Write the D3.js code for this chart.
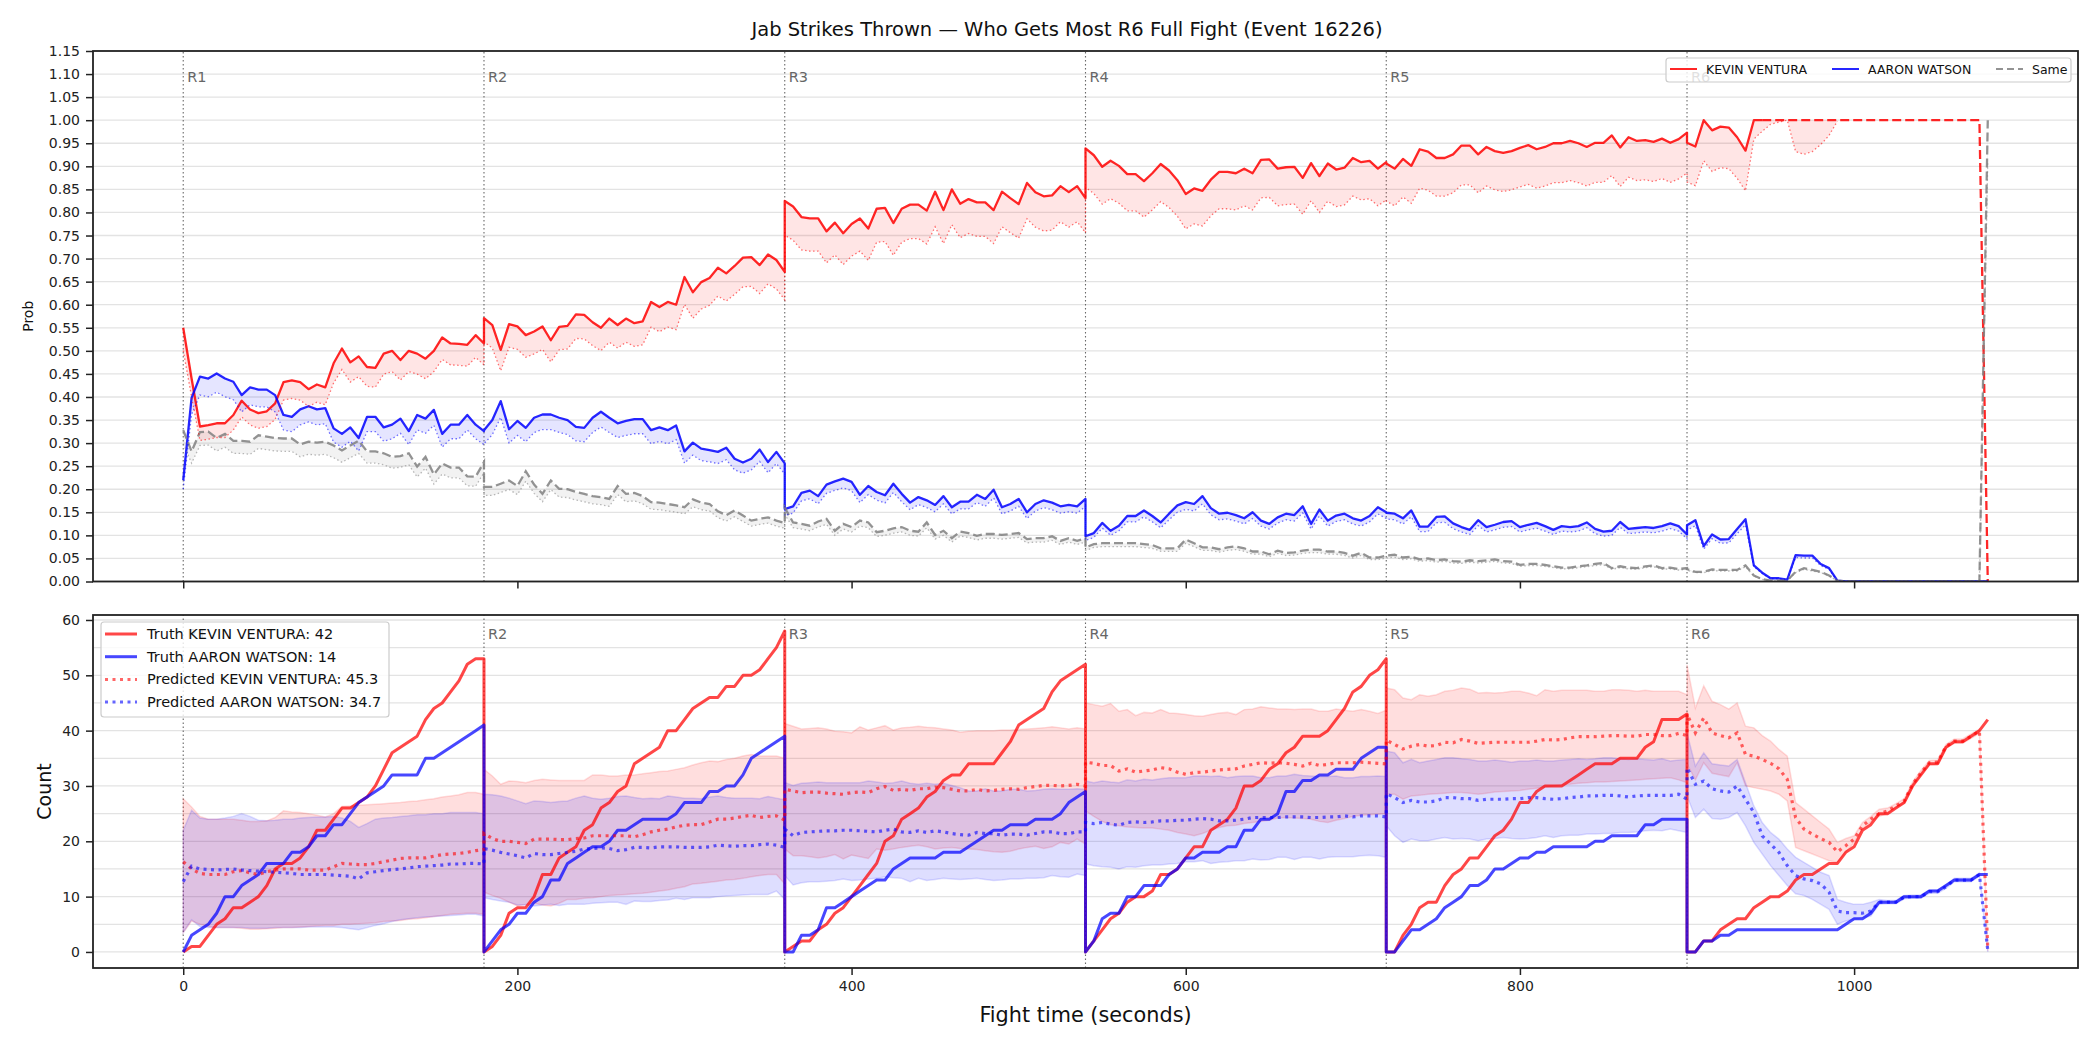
<!DOCTYPE html>
<html>
<head>
<meta charset="utf-8">
<script src="https://cdn.jsdelivr.net/npm/d3@7"></script>
<style>
  body { margin: 0; background: #fff; }
  svg { display: block; }
  text { font-family: "DejaVu Sans", sans-serif; }
</style>
</head>
<body>
<div id="chart"></div>
<script>
/* CONSTANTS AND DATA */
const width = 2100;
const height = 1050;

const roundStarts = [0, 180, 360, 540, 720, 900];
const roundLabels = ["R1", "R2", "R3", "R4", "R5", "R6"];
const stepSec = 5;
const xTicks = [0, 200, 400, 600, 800, 1000];

const fighterNames = ["KEVIN VENTURA", "AARON WATSON"];
const truthTotals = [42, 14];
const predTotals = [45.3, 34.7];

// top panel: win probability per round, one value every 5 s
const kvProb = [
  [0.55,0.44,0.336,0.339,0.343,0.343,0.361,0.392,0.373,0.365,0.369,0.386,0.432,0.436,0.432,0.417,0.427,0.421,0.473,0.505,0.475,0.488,0.465,0.463,0.494,0.5,0.48,0.5,0.494,0.483,0.5,0.529,0.516,0.515,0.513,0.534,0.516],
  [0.571,0.556,0.502,0.558,0.553,0.534,0.542,0.553,0.523,0.552,0.554,0.579,0.578,0.562,0.55,0.57,0.556,0.57,0.56,0.564,0.606,0.595,0.606,0.6,0.66,0.627,0.649,0.658,0.68,0.668,0.684,0.702,0.703,0.686,0.709,0.697,0.671],
  [0.825,0.813,0.79,0.787,0.787,0.759,0.778,0.755,0.775,0.787,0.765,0.808,0.81,0.777,0.808,0.817,0.817,0.804,0.845,0.805,0.85,0.819,0.829,0.822,0.822,0.805,0.845,0.831,0.818,0.864,0.844,0.835,0.837,0.857,0.844,0.857,0.831],
  [0.939,0.924,0.899,0.912,0.901,0.883,0.883,0.868,0.885,0.905,0.891,0.87,0.84,0.852,0.847,0.871,0.888,0.888,0.885,0.895,0.885,0.914,0.915,0.895,0.898,0.899,0.875,0.907,0.879,0.906,0.893,0.897,0.918,0.909,0.912,0.895,0.909],
  [0.906,0.895,0.916,0.901,0.937,0.932,0.918,0.918,0.926,0.945,0.945,0.926,0.942,0.933,0.929,0.933,0.94,0.946,0.937,0.942,0.95,0.95,0.955,0.95,0.942,0.951,0.951,0.967,0.941,0.963,0.955,0.957,0.953,0.96,0.951,0.959,0.973],
  [0.951,0.943,1,0.978,0.986,0.984,0.963,0.934,1,1,1,1,1,1,1,1,1,1,1,1,1,1,1,1,1,1,1,1,1,1,1,1,1,1,1,1,0]
];
const awProb = [
  [0.22,0.398,0.444,0.44,0.451,0.44,0.433,0.404,0.421,0.416,0.416,0.404,0.361,0.357,0.373,0.38,0.373,0.376,0.332,0.32,0.334,0.311,0.357,0.357,0.334,0.34,0.353,0.326,0.361,0.353,0.372,0.32,0.34,0.34,0.361,0.34,0.326],
  [0.328,0.35,0.391,0.33,0.348,0.333,0.355,0.362,0.362,0.355,0.35,0.335,0.333,0.355,0.368,0.355,0.343,0.348,0.352,0.352,0.328,0.334,0.328,0.338,0.282,0.301,0.288,0.285,0.281,0.29,0.266,0.258,0.266,0.286,0.259,0.281,0.256],
  [0.157,0.163,0.192,0.197,0.185,0.21,0.217,0.223,0.216,0.188,0.207,0.194,0.187,0.212,0.19,0.171,0.183,0.176,0.166,0.185,0.161,0.173,0.173,0.188,0.179,0.199,0.161,0.168,0.179,0.15,0.168,0.176,0.171,0.163,0.166,0.163,0.179],
  [0.098,0.105,0.127,0.11,0.121,0.142,0.142,0.154,0.142,0.128,0.147,0.165,0.172,0.168,0.185,0.159,0.147,0.149,0.144,0.137,0.15,0.132,0.125,0.139,0.147,0.144,0.163,0.125,0.156,0.132,0.143,0.147,0.137,0.132,0.142,0.161,0.15],
  [0.149,0.147,0.137,0.154,0.119,0.119,0.14,0.141,0.126,0.118,0.112,0.133,0.118,0.123,0.129,0.131,0.118,0.123,0.127,0.12,0.112,0.12,0.118,0.12,0.128,0.114,0.108,0.11,0.129,0.114,0.116,0.118,0.116,0.12,0.126,0.12,0.102],
  [0.122,0.133,0.077,0.102,0.091,0.092,0.114,0.135,0.035,0.019,0.007,0.007,0.004,0.057,0.056,0.056,0.038,0.029,0.002,0,0,0,0,0,0,0,0,0,0,0,0,0,0,0,0,0,0]
];
const sameProb = [
  [0.328,0.282,0.324,0.325,0.311,0.32,0.305,0.305,0.303,0.317,0.314,0.311,0.31,0.31,0.297,0.303,0.301,0.303,0.295,0.284,0.295,0.305,0.282,0.282,0.278,0.27,0.272,0.278,0.249,0.27,0.232,0.256,0.247,0.247,0.228,0.227,0.259],
  [0.205,0.205,0.212,0.219,0.207,0.239,0.21,0.19,0.219,0.201,0.2,0.194,0.19,0.185,0.183,0.179,0.207,0.19,0.192,0.185,0.172,0.171,0.168,0.165,0.161,0.178,0.171,0.168,0.152,0.144,0.154,0.143,0.132,0.136,0.139,0.132,0.127],
  [0.16,0.128,0.125,0.121,0.13,0.136,0.11,0.125,0.118,0.132,0.128,0.107,0.11,0.115,0.118,0.11,0.108,0.128,0.101,0.11,0.094,0.108,0.105,0.099,0.103,0.103,0.101,0.103,0.105,0.092,0.094,0.094,0.098,0.088,0.094,0.088,0.094],
  [0.074,0.081,0.083,0.083,0.083,0.083,0.083,0.081,0.079,0.072,0.072,0.072,0.091,0.083,0.074,0.074,0.07,0.074,0.076,0.072,0.065,0.065,0.059,0.067,0.062,0.063,0.067,0.069,0.069,0.065,0.065,0.062,0.056,0.062,0.052,0.052,0.056],
  [0.056,0.058,0.052,0.054,0.048,0.05,0.046,0.048,0.044,0.043,0.046,0.044,0.046,0.048,0.044,0.043,0.036,0.038,0.038,0.036,0.033,0.03,0.03,0.033,0.035,0.038,0.04,0.029,0.033,0.03,0.029,0.033,0.035,0.029,0.03,0.027,0.029],
  [0.027,0.021,0.021,0.026,0.025,0.025,0.025,0.035,0.013,0.005,0.002,0.002,0.002,0.021,0.029,0.025,0.021,0.013,0.002,0,0,0,0,0,0,0,0,0,0,0,0,0,0,0,0,0,1]
];
// dotted lines sit at ~91% of the solid ones, except the R6 tail of Ventura
const calib = 0.91;
const kvLowerR6 = [0.866,0.858,0.912,0.889,0.897,0.895,0.874,0.847,0.959,0.976,0.991,0.996,1,0.932,0.926,0.932,0.947,0.967,0.998,null,null,null,null,null,null,null,null,null,null,null,null,null,null,null,null,null,null];

// bottom panel: cumulative counts per round
const kvTruth = [
  [0,1,1,3,5,6,8,8,9,10,12,15,16,16,17,19,22,22,24,26,26,27,28,30,33,36,37,38,39,42,44,45,47,49,52,53,53],
  [0,1,3,7,8,8,10,14,14,17,18,19,22,23,26,27,29,30,34,35,36,37,40,40,42,44,45,46,46,48,48,50,50,51,53,55,58],
  [0,1,2,2,4,5,7,8,10,12,14,16,20,21,24,25,26,28,29,31,32,32,34,34,34,34,36,38,41,42,43,44,47,49,50,51,52],
  [0,2,4,6,7,9,10,10,11,14,14,15,17,19,19,22,23,24,26,30,30,31,33,34,36,37,39,39,39,40,42,44,47,48,50,51,53],
  [0,0,3,5,8,9,9,12,14,15,17,17,19,21,22,24,27,27,29,30,30,30,31,32,33,34,34,34,35,35,35,37,38,42,42,42,43],
  [0,0,2,2,4,5,6,6,8,9,10,10,11,13,14,14,15,16,16,18,19,22,23,25,25,26,27,30,32,34,34,37,38,38,39,40,42]
];
const awTruth = [
  [0,3,4,5,7,10,10,12,13,14,16,16,16,18,18,19,21,21,23,23,25,27,28,29,30,32,32,32,32,35,35,36,37,38,39,40,41],
  [0,2,4,5,7,7,9,10,13,13,16,17,18,19,19,20,22,22,23,24,24,24,24,25,27,27,27,29,29,30,30,32,35,36,37,38,39],
  [0,0,3,3,4,8,8,9,10,11,12,13,13,15,16,17,17,17,17,18,18,18,19,20,21,22,22,23,23,23,24,24,24,25,27,28,29],
  [0,2,6,7,7,10,10,12,12,12,14,15,17,17,18,18,18,19,19,22,22,24,24,25,29,29,31,31,32,32,33,33,33,35,36,37,37],
  [0,0,2,4,4,5,6,8,9,10,12,12,13,15,15,16,17,17,18,18,19,19,19,19,19,20,20,21,21,21,21,23,23,24,24,24,24],
  [0,0,2,2,3,3,4,4,4,4,4,4,4,4,4,4,4,4,4,5,6,6,7,9,9,9,10,10,10,11,11,12,13,13,13,14,14]
];
const kvPred = [
  [16.3,15,14.2,14,14,14,14.5,14.7,14.3,14,14.5,14.8,15,15,15,14.8,14.8,14.8,15.4,16,15.9,15.8,15.8,16,16.3,16.6,16.9,17,17,17,17.3,17.6,17.7,17.8,18,18.3,18.5],
  [21.4,20.5,20,20,19.8,19.6,20.4,20.4,20.4,20.3,20.3,20.5,20.6,21,21,21,21,21,20.8,21.2,21.7,22,22.2,22.6,22.9,23,23,23.5,24,24,24.2,24.5,24.7,24.3,24.5,24.6,23.8],
  [29.4,29.1,28.8,28.9,28.9,28.7,28.6,28.5,28.8,28.9,28.8,29.5,29.9,29.2,29.4,29.2,29.5,29.5,29.8,29.7,29.4,29.1,29.1,29.4,29.1,29.2,29.4,29.5,29.4,29.7,29.9,30.1,30.1,30,30.1,30.3,30],
  [34.3,34.1,33.7,33.7,32.7,33.1,32.5,32.7,32.9,33.3,33.1,32.5,32.1,32.4,32.5,32.7,32.9,33,33.1,33.6,33.9,34.2,34.1,34.2,34.1,33.9,33.6,34.1,33.7,33.9,34.2,34.2,34.2,34.3,34.2,34.1,34],
  [38.3,37.5,36.7,37.2,37.5,37.2,37.3,37.9,37.8,38.4,38.1,37.7,37.8,37.9,37.9,37.9,37.9,37.9,38.1,38.4,38.3,38.4,38.7,38.9,38.9,38.9,39,39.1,39.1,39,39,39.3,39.3,39.1,39.1,39.5,39.1],
  [43,39.6,42.3,39.6,39.1,38.7,39.6,35.7,35.4,34.8,34.1,33.1,31.2,24.3,22.2,21.3,20.5,19.8,18.1,19.2,20.4,22.8,24,25,25.5,26.4,27.3,30.3,32.4,34.2,34.3,37.2,38.1,38.1,39,39.9,0.5]
];
const awPred = [
  [12.7,15.5,15,14.9,14.8,14.9,15,14.8,14.7,14.6,14.5,14.4,14.3,14.2,14,14,14,14,13.9,13.8,13.7,13.2,14.3,14.5,14.7,14.9,15,15.2,15.4,15.5,15.6,15.7,15.9,15.9,16,16,15.9],
  [18.7,18.4,18,17.7,17.4,17,17.8,17.6,17.6,17.8,18,18.2,18.6,18.7,18.8,18.7,18.3,18.5,18.9,18.9,18.8,19,19,19,18.9,18.9,18.9,19,19.3,19.2,19.1,19.2,19.2,19.4,19.5,19.3,18.9],
  [22.2,21,21.6,21.7,21.8,21.9,21.9,22,22,21.9,21.8,21.7,22,22.2,21.7,21.6,21.9,21.6,21.9,21.7,21.4,21.2,21.1,21.6,21.4,21.4,21.1,21.3,21.3,21.1,21.4,21.7,21.7,21.4,21.4,21.7,21.7],
  [23.4,23.2,23.4,23.1,22.9,23.4,23.5,23.4,23.5,23.7,23.7,23.8,23.8,24,24.1,24,23.7,23.7,23.8,24,24.3,24.3,24.3,24.3,24.4,24.4,24.4,24.3,24.3,24.4,24.4,24.6,24.4,24.6,24.6,24.6,24.4],
  [28.6,27.9,27,27.4,27.1,27.1,27.3,27.9,27.9,27.7,27.7,27.4,27.6,27.6,27.6,27.7,27.7,27.9,27.9,27.7,27.6,27.7,27.9,28,28.2,28.2,28.3,28.3,28.2,28,28.2,28.3,28.3,28.3,28.3,28.5,27.6],
  [33.3,30.3,30.9,29.5,29.1,28.9,30,27.6,25.2,21,19.5,18,15.6,13.8,13.2,12.9,12.3,10.8,7.4,7.1,7.1,7,7.4,9,9,9,9.9,10,10,10.9,10.9,11.8,13,13,13,14,0.3]
];
const kvHi = [
  [27.7,26.2,24.5,24,24,24,24,23.8,23.6,23.6,23.7,24.3,25.5,25.3,25.2,25,24.7,24.4,25,26.3,26.4,26.5,26.6,26.7,26.8,26.9,27,27.2,27.3,27.5,27.7,28,28.2,28.4,28.8,28.8,28.5],
  [33,31.8,30.3,30.9,30.8,30.6,31,31.2,31.1,31,31,31,31,32,32,31.8,31.8,32,32,32.2,32.4,32.6,32.7,33,33.3,33.8,34.2,34.5,34.4,34.8,35,35.4,35.7,35.4,35.4,35.4,35],
  [41.3,40.8,40.3,40.4,40.5,40.3,39.9,39.8,39.6,40.7,40.1,40.5,40.9,40.1,40.5,40.6,40.8,40.6,40.5,40.3,40.1,39.7,39.9,40,40,40,40.1,40.1,40.2,40.3,40.4,40.5,40.7,40.5,40.3,40.5,40.3],
  [45,44.7,44.4,44.9,43.5,43.8,42.7,43.3,43.2,43.8,43.2,43.1,42.9,42.7,42.6,42.9,43.2,43.3,42.9,43.8,43.9,44.3,44.1,43.9,43.9,43.8,43.9,43.9,43.5,43.5,43.9,43.7,43.5,43.8,43.5,43.1,43.7],
  [47.7,47.4,45.9,45.6,46.5,46.2,46.5,47.1,47.3,47.7,47.5,46.8,46.9,46.8,46.9,47.1,47.1,46.8,46.3,47.4,47.1,47.3,47.3,47.3,47.3,47.1,47.1,47.4,47.4,47.3,47.1,47.3,47.1,47.1,47.1,47.1,46.5],
  [51.9,44.1,48.1,45.3,44.7,43.9,45,40.8,40.5,39.1,38.1,36.6,35.4,27,25.8,24.6,23.4,22.2,19.8,20.5,21,23.4,24.5,25.8,26,26.8,27.7,30.7,32.8,34.6,34.7,37.5,38.5,38.5,39.4,40.3,0.8]
];
const kvLo = [
  [3.5,5.6,5,4.6,4.4,4.4,4.4,4.3,4.1,4.1,4.2,4.3,4.4,4.4,4.5,4.6,4.7,4.8,4.8,5,5,5.1,5.2,5.3,5.5,5.6,5.7,5.9,6,6.2,6.4,6.6,6.8,6.9,7,7,6.8],
  [10.8,10.2,9.7,9,8.3,8.6,8.8,8.5,8.3,8.8,9.5,9.5,9.7,9.8,10,10.2,10.3,10.4,10.5,10.6,10.8,11,11.2,11.5,11.8,12.3,12.4,12.6,12.8,13,13.1,13.3,13.6,13.8,14,14,12.3],
  [18.6,17.4,17.4,17.2,17,17.2,17.6,16.8,17.5,17.2,16.9,18.6,18.4,18.6,18.9,19.1,19.3,19,18.6,18.8,18.9,18.7,18.6,18.5,18.3,18.1,18,18.2,18.6,18.9,19.1,18.7,19,19.8,19.5,20.4,19.5],
  [25.5,24.5,23.6,23,22.8,22.6,22.5,22.4,22.4,22.2,22,21.6,21.3,21,21.4,22,22.5,22.8,22.9,23.2,23.4,23.6,23.8,24.2,24.3,24.2,24.1,24,23.6,23.4,23.8,24.1,24.5,24.7,24.8,24.9,25],
  [28.5,28.5,27.6,28.2,28.3,28.5,28.6,28.7,28.8,28.8,28.7,28.5,28.7,28.9,29,29.1,29.2,29.4,29.6,29.8,30,30.2,30.3,30.5,30.6,30.7,30.7,30.8,30.9,31,31.1,31.2,31.3,31.4,31.5,31.1,30.6],
  [34,31.1,34.2,32.3,32,31.7,34.2,30,29.7,29.4,29.1,28.5,27.3,18.9,18.3,17.7,17.1,16.5,16.2,18,19.8,22.2,23.5,24.5,25,26,26.9,29.9,32,33.8,33.9,36.9,37.7,37.7,38.6,39.5,0.2]
];
const awHi = [
  [22,25.6,24.2,24,24,24.2,24.5,25,24.5,23.8,23.7,23.8,24,24,24.2,24.3,24.4,24.4,24.5,24.2,23.6,22.5,23.2,24,24.2,24.3,24.5,24.6,24.8,24.8,25,25,25.2,25.2,25.2,25.2,25],
  [28.5,28.4,28.2,27.8,27.3,26.8,27.3,27.2,27,27.2,27.3,27.8,28.2,27.8,27.6,27.8,28.1,28.2,27.9,27.7,27.8,27.7,28.2,28,27.8,27.8,27.7,28,28.2,27.9,27.8,27.8,27.8,27.7,28.1,27.8,27.5],
  [30.6,30.1,30.5,30.6,30.7,30.6,30.6,30.6,30.6,30.6,30.9,30.7,30.5,30.6,30.9,30.5,30.3,30.5,30.3,30.5,30.1,29.7,29.1,29.1,29.5,29.1,29.1,29.4,29.4,29.1,29.2,29.4,29.5,29.4,29.4,29.5,29.4],
  [30.9,30.6,30.9,30.7,30.6,31.1,30.9,31.2,31.1,31.3,31.5,31.5,31.5,31.8,31.8,31.7,31.8,31.5,31.7,31.8,31.8,31.5,31.5,31.8,31.8,32.1,31.9,31.8,31.7,31.7,31.8,31.5,31.5,31.7,31.7,31.8,31.7],
  [36.3,36,34.2,34.8,34.2,34.5,34.8,35.1,35.1,34.9,34.8,34.5,34.5,34.7,34.5,34.3,34.5,34.5,34.7,34.5,34.5,34.7,34.8,34.9,34.8,34.9,35.1,35.1,34.9,34.8,34.9,34.8,34.7,34.9,34.5,34.7,34.8],
  [39.6,33.6,36,34,33.8,33.6,34.8,30.6,26.4,23.4,21.6,20.4,18.6,17.1,16.2,15.3,14.4,13.8,9.5,9,8.6,8.6,9,9.5,9.3,9.3,10.2,10.3,10.3,11.2,11.2,12.1,13.3,13.3,13.3,14.3,0.5]
];
const awLo = [
  [3.5,5.8,4.6,4.4,4.4,4.4,4.4,4.4,4.3,4.3,4.3,4.4,4.4,4.4,4.4,4.5,4.5,4.5,4.5,4.4,4.2,4,4.4,4.8,5.1,5.5,5.8,6,6.2,6.3,6.4,6.5,6.6,6.7,6.8,6.8,6.5],
  [9.8,9.5,9.2,9,8.5,8.5,8.3,8.5,8.6,8.4,8.6,8.6,8.6,8.8,8.9,9,9,8.6,9.2,9.1,9.1,9.3,9.4,9.7,9.5,9.8,9.8,9.8,10,10.1,10.2,10.3,10.4,10.4,10.4,11,9.5],
  [13.8,12.1,12.5,12.7,12.7,12.8,12.9,13.2,12.9,13,13.2,13.3,13.6,13.4,13.3,12.7,13.3,12.9,13.1,13.3,13.2,13.1,13.2,13.3,13.1,12.9,13,13.2,13.2,13.3,13.3,13.4,13.8,13.6,13.5,14.1,13.8],
  [15.9,15.6,15.4,15.3,15,15.4,15.3,15.6,15.7,15.7,15.9,16,16.3,16.3,16.5,16,16.2,16.3,16.5,16.5,16.8,16.6,16.7,17.1,17.1,16.7,17.1,17.1,16.8,17.1,17.2,17.2,17.2,17.4,17.5,17.4,17.1],
  [22.8,21,19.8,20.4,20.1,20.1,20.4,20.7,20.4,20.5,20.4,20.1,20.4,20.5,20.7,20.5,20.4,20.5,20.7,21,20.7,21,21.1,21.1,21.3,21.3,21.4,21.4,21.6,21.6,21.7,21.9,22,21.9,22.2,21.9,21.6],
  [28.2,24.3,25.8,24.1,24,24.3,25.2,22.8,19.8,17.7,15.6,13.8,12,10.5,10.2,9.5,8.6,7.7,5,5.6,5.9,6.2,6.5,8.6,8.7,8.7,9.6,9.7,9.7,10.6,10.6,11.5,12.7,12.7,12.7,13.7,0]
];

const RED = "#ff0000", BLUE = "#0000ff", GRAY = "#808080";

// HELPERS ###################################################
// turn per-round arrays into {t, v} points on the fight clock
function flatten(rounds) {
  const out = [];
  rounds.forEach((vals, r) => vals.forEach((v, k) => out.push({ t: roundStarts[r] + k * stepSec, v: v })));
  return out;
}
function zip(a, b) {
  return a.map((d, i) => ({ t: d.t, hi: d.v, lo: b[i].v }));
}

// SCALES ####################################################
const x = d3.scaleLinear().domain([-54, 1134]).range([93, 2078]);
const yTop = d3.scaleLinear().domain([0, 1.15]).range([581.5, 51]);
const yBot = d3.scaleLinear().domain([-2.9, 60.9]).range([968, 615]);

const svg = d3.select("#chart").append("svg")
  .attr("width", width)
  .attr("height", height);

const defs = svg.append("defs");
defs.append("clipPath").attr("id", "clipTop").append("rect")
  .attr("x", x.range()[0]).attr("y", yTop.range()[1])
  .attr("width", x.range()[1] - x.range()[0]).attr("height", yTop.range()[0] - yTop.range()[1]);
defs.append("clipPath").attr("id", "clipBot").append("rect")
  .attr("x", x.range()[0]).attr("y", yBot.range()[1])
  .attr("width", x.range()[1] - x.range()[0]).attr("height", yBot.range()[0] - yBot.range()[1]);

// TITLE
svg.append("text")
  .attr("x", 1067).attr("y", 36)
  .attr("text-anchor", "middle")
  .style("font-size", "19.5px")
  .attr("fill", "#111")
  .text("Jab Strikes Thrown \u2014 Who Gets Most R6 Full Fight (Event 16226)");

// PANEL FRAME + GRID + ROUND LINES ##########################
function drawPanel(y, gridVals, labelY) {
  const g = svg.append("g");
  g.selectAll(".grid")
    .data(gridVals)
    .join("line")
      .attr("x1", x.range()[0]).attr("x2", x.range()[1])
      .attr("y1", d => y(d)).attr("y2", d => y(d))
      .attr("stroke", "#e3e3e3").attr("stroke-width", 1.3);
  g.selectAll(".rline")
    .data(roundStarts)
    .join("line")
      .attr("x1", d => x(d)).attr("x2", d => x(d))
      .attr("y1", y.range()[0]).attr("y2", y.range()[1])
      .attr("stroke", "#444").attr("stroke-width", 1.1)
      .attr("stroke-dasharray", "1.5,2.5").attr("opacity", 0.8);
  g.selectAll(".rlab")
    .data(roundStarts)
    .join("text")
      .attr("x", d => x(d) + 4).attr("y", labelY)
      .attr("fill", "#666").style("font-size", "14.5px")
      .text((d, i) => roundLabels[i]);
  return g;
}
drawPanel(yTop, d3.range(0, 23).map(i => i * 0.05), 82);
drawPanel(yBot, d3.range(0, 13).map(i => i * 5), 639);

// TOP PANEL: PROBABILITIES ##################################
const kvPts = flatten(kvProb);
const awPts = flatten(awProb);
const samePts = flatten(sameProb);
const kvLowPts = flatten(kvProb.slice(0, 5).map(a => a.map(v => v * calib)).concat([kvLowerR6]));
const awLowPts = flatten(awProb.map(a => a.map(v => v * calib)));
const sameLowPts = flatten(sameProb.map(a => a.map(v => v * calib)));

const topG = svg.append("g").attr("clip-path", "url(#clipTop)");
const topArea = d3.area()
  .defined(d => d.lo != null)
  .x(d => x(d.t)).y0(d => yTop(d.lo)).y1(d => yTop(d.hi));
const topLine = d3.line()
  .defined(d => d.v != null)
  .x(d => x(d.t)).y(d => yTop(d.v));

[[kvPts, kvLowPts, RED], [awPts, awLowPts, BLUE], [samePts, sameLowPts, GRAY]].forEach(([pts, low, col]) => {
  topG.append("path").datum(zip(pts, low))
    .attr("d", topArea).attr("fill", col).attr("fill-opacity", 0.1);
});

// main lines
topG.append("path").datum(kvPts.filter(d => d.t <= 945))
  .attr("d", topLine).attr("fill", "none").attr("stroke", RED)
  .attr("stroke-opacity", 0.85).attr("stroke-width", 2.3).attr("stroke-linejoin", "round");
topG.append("path").datum(kvPts.filter(d => d.t >= 945))
  .attr("d", topLine).attr("fill", "none").attr("stroke", RED)
  .attr("stroke-opacity", 0.85).attr("stroke-width", 2.3).attr("stroke-dasharray", "9,4");
topG.append("path").datum(awPts)
  .attr("d", topLine).attr("fill", "none").attr("stroke", BLUE)
  .attr("stroke-opacity", 0.85).attr("stroke-width", 2.3).attr("stroke-linejoin", "round");
topG.append("path").datum(samePts)
  .attr("d", topLine).attr("fill", "none").attr("stroke", GRAY)
  .attr("stroke-opacity", 0.85).attr("stroke-width", 2.3).attr("stroke-dasharray", "9,4");

// dotted calibrated lines
[[kvLowPts, RED], [awLowPts, BLUE], [sameLowPts, GRAY]].forEach(([pts, col]) => {
  topG.append("path").datum(pts)
    .attr("d", topLine).attr("fill", "none").attr("stroke", col)
    .attr("stroke-opacity", 0.55).attr("stroke-width", 1.3).attr("stroke-dasharray", "1.5,2.5");
});

// BOTTOM PANEL: COUNTS ######################################
const botG = svg.append("g").attr("clip-path", "url(#clipBot)");
const botArea = d3.area().x(d => x(d.t)).y0(d => yBot(d.lo)).y1(d => yBot(d.hi));
const botLine = d3.line().x(d => x(d.t)).y(d => yBot(d.v));

[[kvHi, kvLo, RED], [awHi, awLo, BLUE]].forEach(([hi, lo, col]) => {
  botG.append("path").datum(zip(flatten(hi), flatten(lo)))
    .attr("d", botArea).attr("fill", col).attr("fill-opacity", 0.13)
    .attr("stroke", col).attr("stroke-opacity", 0.13).attr("stroke-width", 1.5);
});
[[kvTruth, RED], [awTruth, BLUE]].forEach(([arr, col]) => {
  botG.append("path").datum(flatten(arr))
    .attr("d", botLine).attr("fill", "none").attr("stroke", col)
    .attr("stroke-opacity", 0.72).attr("stroke-width", 3).attr("stroke-linejoin", "round");
});
[[kvPred, RED], [awPred, BLUE]].forEach(([arr, col]) => {
  botG.append("path").datum(flatten(arr))
    .attr("d", botLine).attr("fill", "none").attr("stroke", col)
    .attr("stroke-opacity", 0.6).attr("stroke-width", 3.2).attr("stroke-dasharray", "3,4.5");
});

// AXES ######################################################
function styleAxis(g) {
  g.select(".domain").remove();
  g.selectAll(".tick line").attr("stroke", "#222").attr("stroke-width", 1.5);
  g.selectAll(".tick text").attr("fill", "#222").style("font-size", "14px")
    .style("font-family", "DejaVu Sans, sans-serif");
}
svg.append("g").attr("transform", `translate(${x.range()[0]},0)`)
  .call(d3.axisLeft(yTop).tickValues(d3.range(0, 24).map(i => i * 0.05))
    .tickFormat(d3.format(".2f")).tickSize(7).tickPadding(6))
  .call(styleAxis);
svg.append("g").attr("transform", `translate(0,${yTop.range()[0]})`)
  .call(d3.axisBottom(x).tickValues(xTicks).tickFormat("").tickSize(7))
  .call(styleAxis);
svg.append("g").attr("transform", `translate(${x.range()[0]},0)`)
  .call(d3.axisLeft(yBot).tickValues(d3.range(0, 7).map(i => i * 10))
    .tickFormat(d3.format("d")).tickSize(7).tickPadding(6))
  .call(styleAxis);
svg.append("g").attr("transform", `translate(0,${yBot.range()[0]})`)
  .call(d3.axisBottom(x).tickValues(xTicks).tickFormat(d3.format("d")).tickSize(7).tickPadding(6))
  .call(styleAxis);

// frames
[yTop, yBot].forEach(y => {
  svg.append("rect")
    .attr("x", x.range()[0]).attr("y", y.range()[1])
    .attr("width", x.range()[1] - x.range()[0]).attr("height", y.range()[0] - y.range()[1])
    .attr("fill", "none").attr("stroke", "#222").attr("stroke-width", 1.8);
});

// axis titles
svg.append("text")
  .attr("transform", `translate(28,${(yTop.range()[0] + yTop.range()[1]) / 2}) rotate(-90)`)
  .attr("text-anchor", "middle").attr("dominant-baseline", "central")
  .style("font-size", "14px").attr("fill", "#111").text("Prob");
svg.append("text")
  .attr("transform", `translate(44,${(yBot.range()[0] + yBot.range()[1]) / 2}) rotate(-90)`)
  .attr("text-anchor", "middle").attr("dominant-baseline", "central")
  .style("font-size", "19px").attr("fill", "#111").text("Count");
svg.append("text")
  .attr("x", (x.range()[0] + x.range()[1]) / 2).attr("y", 1015)
  .attr("text-anchor", "middle").attr("dominant-baseline", "central")
  .style("font-size", "20.8px").attr("fill", "#111").text("Fight time (seconds)");

// LEGENDS ###################################################
const legTop = svg.append("g");
legTop.append("rect")
  .attr("x", 1666).attr("y", 58).attr("width", 405).attr("height", 24).attr("rx", 3)
  .attr("fill", "#fff").attr("fill-opacity", 0.8).attr("stroke", "#cccccc").attr("stroke-width", 1.2);
const topItems = [
  { label: fighterNames[0], col: RED, dash: null, x0: 1670 },
  { label: fighterNames[1], col: BLUE, dash: null, x0: 1832 },
  { label: "Same", col: GRAY, dash: "7,4", x0: 1996 }
];
topItems.forEach(d => {
  legTop.append("line")
    .attr("x1", d.x0).attr("x2", d.x0 + 27).attr("y1", 69).attr("y2", 69)
    .attr("stroke", d.col).attr("stroke-opacity", 0.85).attr("stroke-width", 2)
    .attr("stroke-dasharray", d.dash);
  legTop.append("text")
    .attr("x", d.x0 + 36).attr("y", 69).attr("dominant-baseline", "central")
    .style("font-size", "12.5px").attr("fill", "#111").text(d.label);
});

const legBot = svg.append("g");
legBot.append("rect")
  .attr("x", 101).attr("y", 622).attr("width", 288).attr("height", 95).attr("rx", 3)
  .attr("fill", "#fff").attr("fill-opacity", 0.8).attr("stroke", "#cccccc").attr("stroke-width", 1.2);
const botItems = [
  { label: `Truth ${fighterNames[0]}: ${truthTotals[0]}`, col: RED, dash: null, op: 0.72 },
  { label: `Truth ${fighterNames[1]}: ${truthTotals[1]}`, col: BLUE, dash: null, op: 0.72 },
  { label: `Predicted ${fighterNames[0]}: ${predTotals[0]}`, col: RED, dash: "3,4.5", op: 0.6 },
  { label: `Predicted ${fighterNames[1]}: ${predTotals[1]}`, col: BLUE, dash: "3,4.5", op: 0.6 }
];
botItems.forEach((d, i) => {
  const cy = 634 + i * 22.7;
  legBot.append("line")
    .attr("x1", 105).attr("x2", 137).attr("y1", cy).attr("y2", cy)
    .attr("stroke", d.col).attr("stroke-opacity", d.op).attr("stroke-width", 3)
    .attr("stroke-dasharray", d.dash);
  legBot.append("text")
    .attr("x", 147).attr("y", cy).attr("dominant-baseline", "central")
    .style("font-size", "14.5px").attr("fill", "#111").text(d.label);
});
</script>
</body>
</html>
